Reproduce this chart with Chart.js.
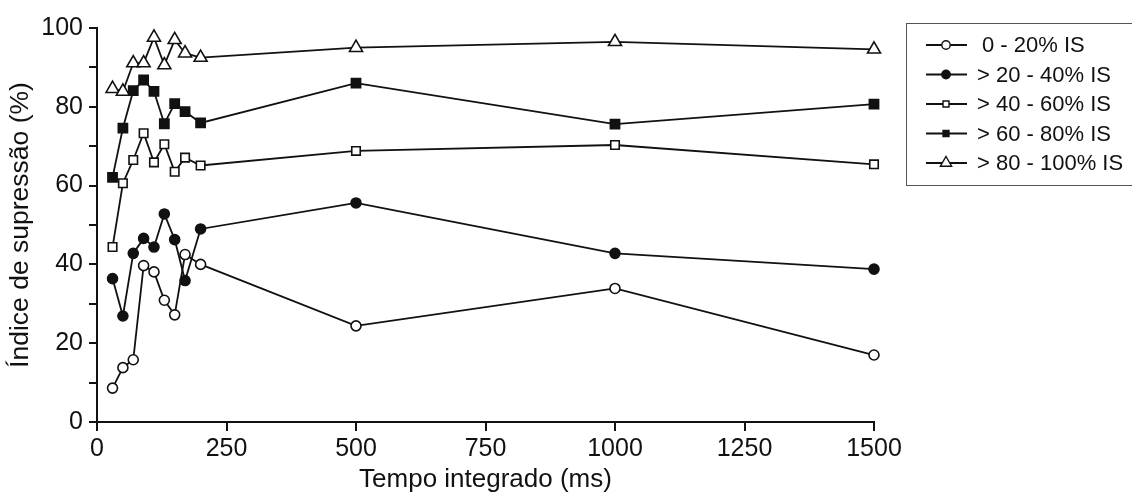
<!DOCTYPE html>
<html>
<head>
<meta charset="utf-8">
<script src="https://cdn.jsdelivr.net/npm/chart.js@4/dist/chart.umd.min.js"></script>
<style>
  body { margin: 0; background: #fff; }
  #wrap { width: 1132px; height: 500px; position: relative; }
</style>
</head>
<body>
<div id="wrap"><canvas id="suppressionChart"></canvas></div>
<script>
// tempo integrado (ms)
const tempos = [30, 50, 70, 90, 110, 130, 150, 170, 200, 500, 1000, 1500];

// índice de supressão (%) por faixa de IS
const is0a20 = [8.6, 13.8, 15.8, 39.7, 38.1, 30.9, 27.2, 42.5, 40.0, 24.4, 33.9, 17.0];
const is20a40 = [36.4, 26.9, 42.8, 46.6, 44.4, 52.8, 46.3, 35.9, 49.0, 55.6, 42.8, 38.8];
const is40a60 = [44.4, 60.6, 66.5, 73.3, 65.9, 70.5, 63.5, 67.1, 65.1, 68.8, 70.3, 65.4];
const is60a80 = [62.1, 74.6, 84.1, 86.8, 83.9, 75.7, 80.8, 78.8, 75.9, 86.0, 75.6, 80.7];
const is80a100 = [84.6, 83.9, 91.1, 91.1, 97.6, 90.6, 97.0, 93.6, 92.5, 95.0, 96.5, 94.6];

const xTicks = [0, 250, 500, 750, 1000, 1250, 1500];
const yTicks = [0, 20, 40, 60, 80, 100];

const serieNames = ['0 - 20% IS', '> 20 - 40% IS', '> 40 - 60% IS', '> 60 - 80% IS', '> 80 - 100% IS'];

const ink = '#111';
const fontFamily = '"Liberation Sans", Arial, Helvetica, sans-serif';

function toPoints(values) {
  return tempos.map((t, i) => ({ x: t, y: values[i] }));
}

function serie(label, values, style, radius, fill) {
  return {
    label: label,
    data: toPoints(values),
    borderColor: ink,
    borderWidth: 1.8,
    pointStyle: style,
    pointRadius: radius,
    pointHoverRadius: radius,
    pointBackgroundColor: fill,
    pointBorderColor: ink,
    pointBorderWidth: 1.6,
    tension: 0,
    clip: false
  };
}

const datasets = [
  serie(serieNames[0], is0a20, 'circle', 5, '#fff'),
  serie(serieNames[1], is20a40, 'circle', 5, ink),
  serie(serieNames[2], is40a60, 'rect', 6, '#fff'),
  serie(serieNames[3], is60a80, 'rect', 6.5, ink),
  serie(serieNames[4], is80a100, 'triangle', 7.5, '#fff')
];

// legend box on the right: line sample with marker, then label
const legendBox = {
  id: 'legendBox',
  afterDraw(chart) {
    const ctx = chart.ctx;
    ctx.save();
    ctx.strokeStyle = '#555';
    ctx.lineWidth = 1;
    ctx.strokeRect(906.5, 23.5, 300, 162);
    ctx.font = '22px ' + fontFamily;
    ctx.textBaseline = 'middle';
    ctx.textAlign = 'left';
    chart.data.datasets.forEach((ds, i) => {
      const y = 45 + i * 29.5;
      ctx.strokeStyle = ink;
      ctx.lineWidth = 1.8;
      ctx.beginPath();
      ctx.moveTo(926, y);
      ctx.lineTo(967, y);
      ctx.stroke();
      ctx.fillStyle = ds.pointBackgroundColor;
      ctx.strokeStyle = ink;
      ctx.lineWidth = 1.4;
      Chart.helpers.drawPoint(ctx, {
        pointStyle: ds.pointStyle,
        radius: ds.pointStyle === 'triangle' ? 6.5 : 4.2,
        rotation: 0,
        borderWidth: 1.4
      }, 946, y);
      ctx.fillStyle = ink;
      ctx.fillText(ds.label, ds.label.startsWith('>') ? 977 : 982, y + 1);
    });
    ctx.restore();
  }
};

new Chart(document.getElementById('suppressionChart').getContext('2d'), {
  type: 'line',
  data: { datasets: datasets },
  options: {
    responsive: true,
    maintainAspectRatio: false,
    animation: false,
    events: [],
    layout: { padding: { left: 0, right: 258, top: 28, bottom: 0 } },
    plugins: {
      legend: { display: false },
      tooltip: { enabled: false }
    },
    scales: {
      x: {
        type: 'linear',
        min: xTicks[0],
        max: xTicks[xTicks.length - 1],
        afterFit: (scale) => { scale.height = 78; },
        afterBuildTicks: (scale) => { scale.ticks = xTicks.map(v => ({ value: v })); },
        ticks: {
          color: ink,
          font: { family: fontFamily, size: 25 },
          padding: 3,
          maxRotation: 0,
          autoSkip: false,
          callback: (v) => String(v)
        },
        grid: { drawOnChartArea: false, drawTicks: true, tickLength: 9, color: ink, lineWidth: 2 },
        border: { display: true, color: ink, width: 2 },
        title: {
          display: true,
          text: 'Tempo integrado (ms)',
          color: ink,
          font: { family: fontFamily, size: 26 },
          padding: { top: 0, bottom: 5 }
        }
      },
      y: {
        min: yTicks[0],
        max: yTicks[yTicks.length - 1],
        afterFit: (scale) => { scale.width = 97; },
        ticks: {
          stepSize: 10,
          color: ink,
          font: { family: fontFamily, size: 25 },
          padding: 6,
          autoSkip: false,
          callback: (v) => yTicks.includes(v) ? String(v) : ''
        },
        grid: { drawOnChartArea: false, drawTicks: true, tickLength: 8, color: ink, lineWidth: 2 },
        border: { display: true, color: ink, width: 2 },
        title: {
          display: true,
          text: 'Índice de supressão (%)',
          color: ink,
          font: { family: fontFamily, size: 26.5 },
          padding: { top: 5, bottom: 0 }
        }
      }
    }
  },
  plugins: [legendBox]
});
</script>
</body>
</html>
